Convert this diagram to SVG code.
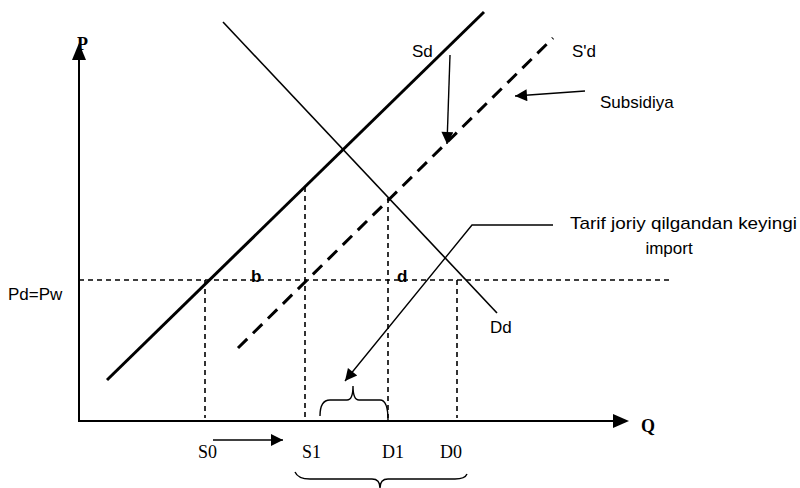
<svg xmlns="http://www.w3.org/2000/svg" width="800" height="488" viewBox="0 0 800 488">
<style>
.ax{stroke:#000;stroke-width:2;fill:none}
.sd{stroke:#000;stroke-width:3;fill:none}
.sdp{stroke:#000;stroke-width:3;fill:none;stroke-dasharray:13 8}
.dd{stroke:#000;stroke-width:1.6;fill:none}
.hd{stroke:#000;stroke-width:1.6;fill:none;stroke-dasharray:5 4}
.vd{stroke:#000;stroke-width:1.6;fill:none;stroke-dasharray:5 4}
.thin{stroke:#000;stroke-width:1.4;fill:none}
.sans{font-family:"Liberation Sans",Arial,sans-serif;font-size:17px;fill:#000}
.serif{font-family:"Liberation Serif","Times New Roman",serif;font-size:18px;fill:#000}
.bold{font-weight:bold}
</style>
<defs>
<marker id="ah" viewBox="0 0 10 10" refX="10" refY="5" markerWidth="14" markerHeight="12" markerUnits="userSpaceOnUse" orient="auto">
<path d="M0,0 L10,5 L0,10 z" fill="#000"/>
</marker>
</defs>
<g id="axes">
<line class="ax" x1="79" y1="421" x2="79" y2="60"/>
<path d="M72,60 L79,43 L86,60 z" fill="#000"/>
<line class="ax" x1="78" y1="421" x2="614" y2="421"/>
<path d="M613,414 L629,421 L613,428 z" fill="#000"/>
<text class="serif bold" x="77" y="50" font-size="16">P</text>
<text class="serif bold" x="641" y="432">Q</text>
</g>
<g id="Sd">
<line class="sd" x1="107" y1="380" x2="484" y2="12"/>
<text class="sans" x="412" y="57">Sd</text>
</g>
<g id="Spd">
<line class="sdp" x1="238" y1="348" x2="553" y2="38"/>
<text class="sans" x="572" y="57">S'd</text>
</g>
<g id="Dd">
<line class="dd" x1="223" y1="22" x2="497" y2="313"/>
<text class="sans" x="490" y="333">Dd</text>
</g>
<g id="price">
<line class="hd" x1="79" y1="280" x2="670" y2="280"/>
<text class="sans" x="8" y="300">Pd=Pw</text>
<text class="sans bold" x="251" y="282" font-size="16">b</text>
<text class="sans bold" x="397" y="282" font-size="16">d</text>
</g>
<g id="verticals">
<line class="vd" x1="205" y1="280" x2="205" y2="418"/>
<line class="vd" x1="305" y1="187" x2="305" y2="418"/>
<line class="vd" x1="388" y1="198" x2="388" y2="418"/>
<line class="vd" x1="457" y1="280" x2="457" y2="418"/>
</g>
<g id="qlabels">
<text class="serif" x="198" y="458">S0</text>
<text class="serif" x="302" y="458">S1</text>
<text class="serif" x="382" y="458">D1</text>
<text class="serif" x="440" y="458">D0</text>
</g>
<g id="subsidiya">
<text class="sans" x="600" y="108" font-size="17.5">Subsidiya</text>
</g>
<g id="tarif">
<text class="sans" x="570" y="229" font-size="18" textLength="227" lengthAdjust="spacingAndGlyphs">Tarif joriy qilgandan keyingi</text>
<text class="sans" x="669" y="254" text-anchor="middle" font-size="18">import</text>
</g>
<g id="braces">
<path class="thin" d="M320,416 Q320,400 330,400 L347,400 Q353,400 353,386 Q353,400 359,400 L380,400 Q388,400 388,420"/>
<path class="thin" d="M295,472 Q298,479 310,479 L372,479 Q380,479 380,488 Q380,479 388,479 L455,479 Q465,479 467,474"/>
</g>
<g id="connectors">
<line class="thin" x1="213" y1="440" x2="283" y2="440" marker-end="url(#ah)"/>
<line class="thin" x1="450" y1="55" x2="447" y2="144" marker-end="url(#ah)"/>
<line class="thin" x1="585" y1="91" x2="515" y2="96" marker-end="url(#ah)"/>
<polyline class="thin" points="553,225 472,225 345,381" marker-end="url(#ah)"/>
</g>
</svg>
